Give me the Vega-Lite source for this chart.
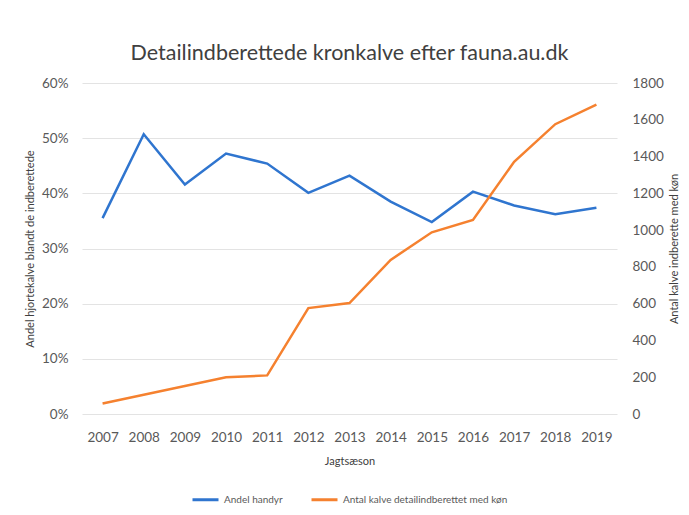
{
  "$schema": "https://vega.github.io/schema/vega-lite/v6.json",
  "width": 535,
  "height": 331,
  "padding": {"left": 24, "top": 42, "right": 5, "bottom": 5},
  "background": "white",
  "config": {
    "font": "Lato",
    "view": {"stroke": null},
    "legend": {"layout": {"bottom": {"anchor": "middle"}}},
    "axis": {
      "domain": false,
      "ticks": false,
      "tickSize": 0,
      "labelFont": "Lato",
      "labelFontSize": 13.5,
      "labelColor": "#595959",
      "titleFont": "Lato",
      "titleFontSize": 11,
      "titleFontWeight": "normal",
      "titleColor": "#404040",
      "gridColor": "#e3e3e3",
      "gridWidth": 1
    }
  },
  "title": {
    "text": "Detailindberettede kronkalve efter fauna.au.dk",
    "fontSize": 21.5,
    "fontWeight": "normal",
    "font": "Lato",
    "color": "#404040",
    "offset": 12
  },
  "data": {
    "values": [
      {"year": "2007", "andel": 0.355, "antal": 57},
      {"year": "2008", "andel": 0.507, "antal": 105},
      {"year": "2009", "andel": 0.416, "antal": 152},
      {"year": "2010", "andel": 0.472, "antal": 200},
      {"year": "2011", "andel": 0.454, "antal": 210},
      {"year": "2012", "andel": 0.401, "antal": 576},
      {"year": "2013", "andel": 0.432, "antal": 603},
      {"year": "2014", "andel": 0.385, "antal": 838},
      {"year": "2015", "andel": 0.348, "antal": 988},
      {"year": "2016", "andel": 0.403, "antal": 1055},
      {"year": "2017", "andel": 0.378, "antal": 1371},
      {"year": "2018", "andel": 0.362, "antal": 1576},
      {"year": "2019", "andel": 0.374, "antal": 1683}
    ]
  },
  "encoding": {
    "x": {
      "field": "year",
      "type": "ordinal",
      "scale": {"type": "point", "padding": 0.5},
      "axis": {
        "title": "Jagtsæson",
        "labelAngle": 0,
        "labelPadding": 16,
        "titlePadding": 12,
        "grid": false
      }
    }
  },
  "layer": [
    {
      "mark": {"type": "line", "strokeWidth": 2.5},
      "encoding": {
        "y": {
          "field": "andel",
          "type": "quantitative",
          "scale": {"domain": [0, 0.6]},
          "axis": {
            "title": "Andel hjortekalve blandt de indberettede",
            "format": ".0%",
            "values": [0, 0.1, 0.2, 0.3, 0.4, 0.5, 0.6],
            "labelPadding": 14,
            "titlePadding": 6,
            "grid": true
          }
        },
        "color": {
          "datum": "Andel handyr",
          "type": "nominal",
          "scale": {
            "domain": ["Andel handyr", "Antal kalve detailindberettet med køn"],
            "range": ["#2f75cf", "#f5812f"]
          },
          "legend": {
            "orient": "bottom",
            "direction": "horizontal",
            "title": null,
            "symbolType": "stroke",
            "symbolStrokeWidth": 3,
            "symbolSize": 676,
            "labelFontSize": 10,
            "labelFont": "Lato",
            "labelColor": "#595959",
            "labelLimit": 400,
            "columnPadding": 22,
            "offset": 18
          }
        }
      }
    },
    {
      "mark": {"type": "line", "strokeWidth": 2.5},
      "encoding": {
        "y": {
          "field": "antal",
          "type": "quantitative",
          "scale": {"domain": [0, 1800]},
          "axis": {
            "orient": "right",
            "title": "Antal kalve indberette med køn",
            "format": "d",
            "values": [0, 200, 400, 600, 800, 1000, 1200, 1400, 1600, 1800],
            "labelPadding": 15,
            "titlePadding": 5,
            "titleAngle": -90,
            "titleBaseline": "top",
            "grid": false
          }
        },
        "color": {"datum": "Antal kalve detailindberettet med køn", "type": "nominal"}
      }
    }
  ],
  "resolve": {"scale": {"y": "independent"}}
}
